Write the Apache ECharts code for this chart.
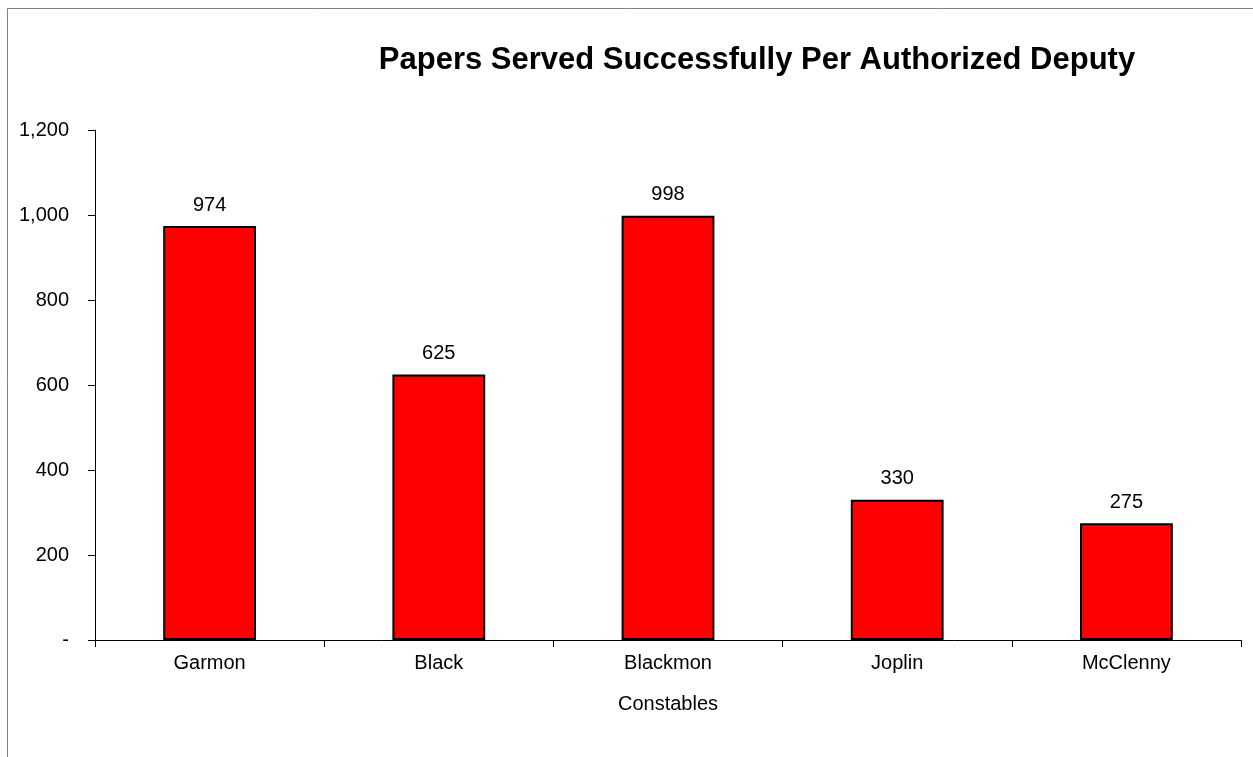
<!DOCTYPE html>
<html><head><meta charset="utf-8">
<script src="https://cdn.jsdelivr.net/npm/echarts@6/dist/echarts.min.js"></script>
<style>html,body{margin:0;padding:0;background:#fff}#c{width:1253px;height:757px}</style>
</head><body><div id="c"></div>
<script>
const categories = ['Garmon','Black','Blackmon','Joplin','McClenny'];
const values = [974, 625, 998, 330, 275];
const chart = echarts.init(document.getElementById('c'));
const font = 'Arial, "Liberation Sans", sans-serif';
chart.setOption({
  animation: false,
  backgroundColor: '#fff',
  title: {
    text: 'Papers Served Successfully Per Authorized Deputy',
    left: 752, top: 40, textAlign: 'center',
    textStyle: {fontFamily: font, fontSize: 31, fontWeight: 'bold', color: '#000'}
  },
  graphic: [{type: 'rect', shape: {x: 7.5, y: 8.5, width: 1300, height: 800},
    style: {fill: 'none', stroke: '#808080', lineWidth: 1}, silent: true}],
  grid: {left: 95, right: 12, top: 130, bottom: 117, containLabel: false},
  xAxis: {
    type: 'category', data: categories,
    name: 'Constables', nameLocation: 'middle', nameGap: 54,
    nameTextStyle: {fontFamily: font, fontSize: 20, color: '#000'},
    axisLine: {lineStyle: {color: '#000', width: 1}},
    axisTick: {show: true, length: 7, lineStyle: {color: '#000'}},
    axisLabel: {fontFamily: font, fontSize: 20, color: '#000', margin: 13},
    splitLine: {show: false}
  },
  yAxis: {
    type: 'value', min: 0, max: 1200, interval: 200,
    axisLine: {show: true, lineStyle: {color: '#000', width: 1}},
    axisTick: {show: true, length: 7, lineStyle: {color: '#000'}},
    axisLabel: {fontFamily: font, fontSize: 20, color: '#000', margin: 26,
      formatter: v => v === 0 ? '-' : v.toLocaleString('en-US')},
    splitLine: {show: false}
  },
  series: [{
    type: 'bar', data: values, barWidth: '40.5%',
    itemStyle: {color: '#ff0000', borderColor: '#000', borderWidth: 2},
    label: {show: true, position: 'top', distance: 11, fontFamily: font, fontSize: 20, color: '#000',
      formatter: p => p.value.toLocaleString('en-US')}
  }]
});
</script></body></html>
